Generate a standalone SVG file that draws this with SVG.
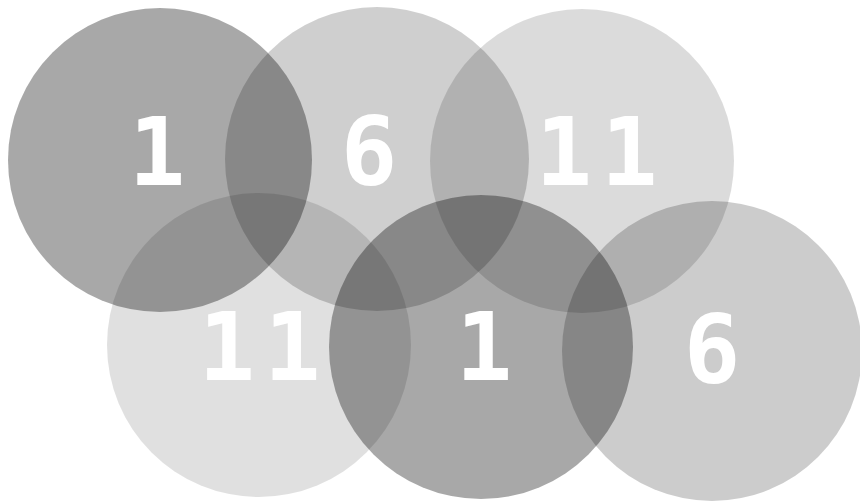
<svg xmlns="http://www.w3.org/2000/svg" width="860" height="504" viewBox="0 0 860 504">
<style>
.c{stroke:none;fill:#000}
.t{font-family:"DejaVu Sans Mono",monospace;font-weight:bold;font-size:94px;fill:#fff;text-anchor:middle}
.ls{letter-spacing:9px}
</style>
<rect width="860" height="504" fill="#fff"/>
<g id="connectors"/>
<g id="n1"><circle class="c" cx="160" cy="160" r="152" fill-opacity="0.34"/></g>
<g id="n2"><circle class="c" cx="377" cy="159" r="152" fill-opacity="0.19"/></g>
<g id="n3"><circle class="c" cx="582" cy="161" r="152" fill-opacity="0.14"/></g>
<g id="n4"><circle class="c" cx="259" cy="345" r="152" fill-opacity="0.12"/></g>
<g id="n5"><circle class="c" cx="481" cy="347" r="152" fill-opacity="0.34"/></g>
<g id="n6"><circle class="c" cx="712" cy="351" r="150" fill-opacity="0.2"/></g>
<g id="labels">
<text class="t" x="157" y="185">1</text>
<text class="t" x="369" y="185">6</text>
<text class="t ls" x="601" y="185">11</text>
<text class="t ls" x="264" y="380">11</text>
<text class="t" x="484" y="380">1</text>
<text class="t" x="712" y="383">6</text>
</g>
</svg>
